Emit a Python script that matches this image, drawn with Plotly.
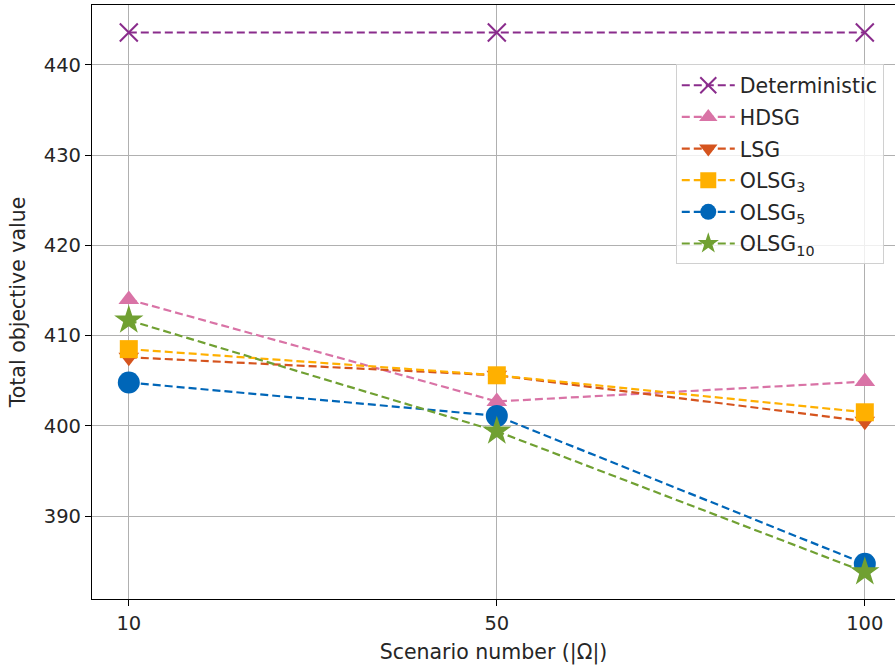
import plotly.graph_objects as go

# Scenario counts on the x axis (evenly spaced categories)
scenarios = ["10", "50", "100"]

# Total objective value per method
deterministic = [443.6, 443.6, 443.6]
hdsg = [414.0, 402.7, 404.9]
lsg = [407.6, 405.6, 400.5]
olsg3 = [408.5, 405.6, 401.5]
olsg5 = [404.8, 401.1, 384.7]
olsg10 = [411.7, 399.4, 383.8]

series = [
    ("Deterministic", deterministic, "#8A2C8C", "x-thin-open", 18),
    ("HDSG", hdsg, "#D973A6", "triangle-up", 18),
    ("LSG", lsg, "#D5541E", "triangle-down", 18),
    ("OLSG<sub>3</sub>", olsg3, "#FFB000", "square", 18),
    ("OLSG<sub>5</sub>", olsg5, "#0066B8", "circle", 22),
    ("OLSG<sub>10</sub>", olsg10, "#70A032", "star", 22),
]

fig = go.Figure()
for i, (name, vals, color, symbol, size) in enumerate(series):
    marker = dict(symbol=symbol, size=size, color=color)
    if symbol == "x-thin-open":
        marker["line"] = dict(color=color, width=2)
    else:
        marker["line"] = dict(width=0)
    fig.add_trace(go.Scatter(
        x=scenarios, y=vals, name=name, mode="lines+markers",
        line=dict(color=color, width=2.2, dash="8px,4px"),
        marker=marker, legendgroup=f"g{i}",
    ))

text_color = "#262626"
tick_font = dict(family="DejaVu Sans", size=19.5, color=text_color)
title_font = dict(family="DejaVu Sans", size=20.5, color=text_color)

fig.update_layout(
    width=895, height=669,
    margin=dict(l=92, r=0, t=5, b=70),
    paper_bgcolor="white", plot_bgcolor="white",
    font=dict(family="DejaVu Sans", size=18, color=text_color),
    showlegend=True,
    legend=dict(
        x=0.727, y=0.9, xanchor="left", yanchor="top",
        bgcolor="rgba(255,255,255,0.8)", bordercolor="#d0d0d0", borderwidth=1,
        font=dict(family="DejaVu Sans", size=20.5, color=text_color),
        tracegroupgap=2, itemwidth=53,
    ),
    xaxis=dict(
        type="category", range=[-0.1, 2.082],
        showgrid=True, gridcolor="#b0b0b0", gridwidth=1,
        showline=True, linecolor="black", linewidth=1.2, mirror=True,
        ticks="outside", ticklen=6, tickcolor="black",
        tickfont=tick_font,
        title=dict(text="Scenario number (|Ω|)", standoff=11, font=title_font),
        zeroline=False,
    ),
    yaxis=dict(
        range=[380.8, 446.65],
        tickvals=[390, 400, 410, 420, 430, 440],
        showgrid=True, gridcolor="#b0b0b0", gridwidth=1,
        showline=True, linecolor="black", linewidth=1.2, mirror=False,
        ticks="outside", ticklen=6, tickcolor="black",
        tickfont=tick_font,
        title=dict(text="Total objective value", standoff=12, font=title_font),
        zeroline=False,
    ),
)

fig.write_html("out.html")
